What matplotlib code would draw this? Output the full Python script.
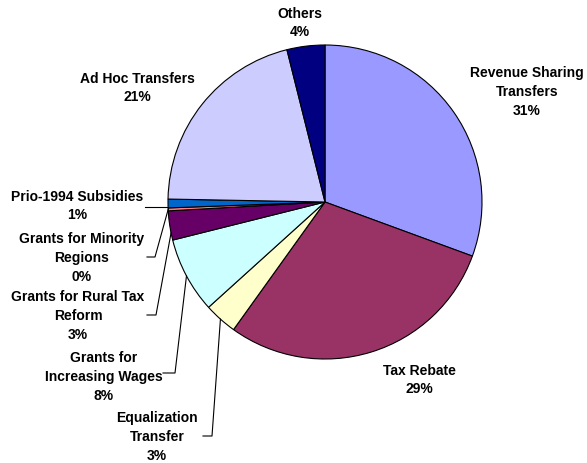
import matplotlib
matplotlib.use("Agg")
import matplotlib.pyplot as plt
import numpy as np

categories = ["Revenue Sharing\nTransfers", "Tax Rebate", "Equalization\nTransfer",
              "Grants for\nIncreasing Wages", "Grants for Rural Tax\nReform",
              "Grants for Minority\nRegions", "Prio-1994 Subsidies",
              "Ad Hoc Transfers", "Others"]
values = [30.6, 29.3, 3.4, 7.8, 3.0, 0.3, 0.9, 20.8, 3.9]
pct_labels = ["31%", "29%", "3%", "8%", "3%", "0%", "1%", "21%", "4%"]
colors = ["#9999FF", "#993366", "#FFFFCC", "#CCFFFF", "#660066",
          "#FF8080", "#0066CC", "#CCCCFF", "#000080"]

W, H = 587, 464
fig = plt.figure(figsize=(W / 100, H / 100), dpi=100)
ax = fig.add_axes([0, 0, 1, 1])

def Y(y):
    return H - y

cx, cy, R = 325, Y(203), 157
ax.pie(values, colors=colors, startangle=90, counterclock=False,
       center=(cx, cy), radius=R,
       wedgeprops=dict(edgecolor="black", linewidth=0.8))
ax.set_xlim(0, W)
ax.set_ylim(0, H)
ax.set_aspect("equal")
ax.axis("off")

font = dict(family="Liberation Sans", weight="bold", fontsize=10,
            linespacing=1.42)

# label positions (center x, center y of the block in pixels)
label_pos = [
    (527, 92),
    (419, 380),
    (157, 437),
    (104, 377),
    (78, 316),
    (82, 258),
    (77, 206),
    (137, 88),
    (300, 23),
]
for cat, pct, (x, y) in zip(categories, pct_labels, label_pos):
    ax.text(x, Y(y), cat + "\n" + pct, ha="center", va="center", **font)

cum = np.cumsum([0] + values)
def rim(angle_deg):
    a = np.deg2rad(angle_deg)
    return cx + R * np.cos(a), cy + R * np.sin(a)

leaders = [
    # (start x, y, elbow x, slice index)
    (145, 208, 160, 6),
    (147, 258, 155, 5),
    (147, 316, 156, 4),
    (163, 374, 175, 3),
    (203, 437, 212, 2),
]
for sx, sy, ex, idx in leaders:
    mid = 90 - 3.6 * (cum[idx] + cum[idx + 1]) / 2
    if idx == 4:
        mid = 90 - 3.6 * (cum[idx] + 0.25 * values[idx])
    tx, ty = rim(mid)
    if idx == 6:
        ax.plot([sx, tx], [Y(sy), Y(sy)], color="black", lw=0.8)
    else:
        ax.plot([sx, ex, tx], [Y(sy), Y(sy), ty], color="black", lw=0.8)

fig.savefig("out.png", dpi=100)
